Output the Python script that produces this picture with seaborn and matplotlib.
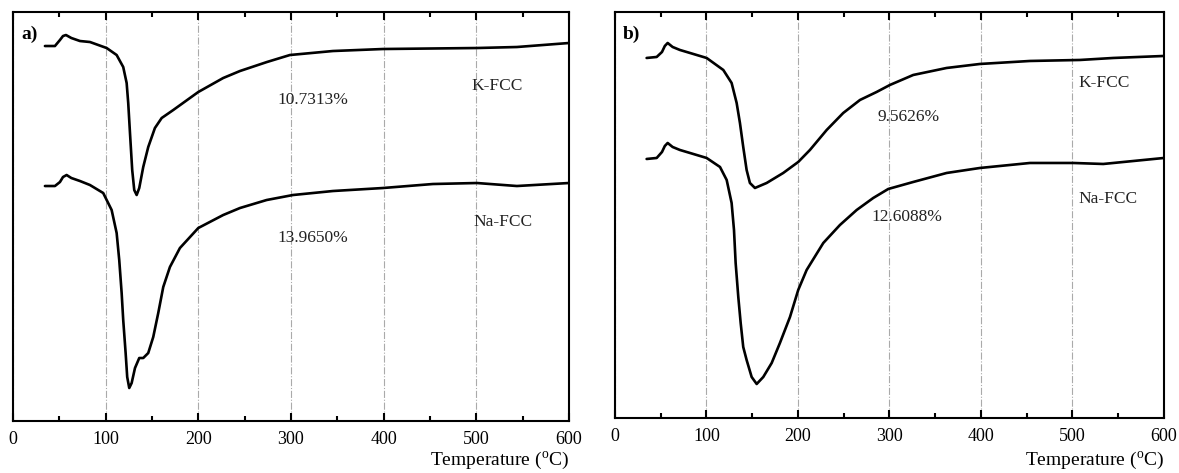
import numpy as np
import pandas as pd
import matplotlib
matplotlib.use("Agg")
import matplotlib.pyplot as plt
import seaborn as sns
from matplotlib.ticker import MultipleLocator

# DSC curves (temperature in degC, heat flow in arbitrary units)
temp_a_k = [34.5, 45.3, 50.7, 54.0, 57.2, 63.0, 72.3, 83.1, 101.1, 111.9, 119.0, 122.7,
            124.4, 126.3, 128.7, 130.9, 133.5, 136.3, 140.6, 146.0, 153.2, 160.5, 173.0,
            200.0, 226.9, 245.0, 274.1, 298.9, 345.3, 399.3, 500.7, 543.9, 600.0]
flow_a_k = [37.5, 37.5, 38.1, 38.5, 38.6, 38.3, 38.0, 37.9, 37.3, 36.6, 35.4, 33.8,
            31.8, 28.8, 25.1, 23.1, 22.6, 23.3, 25.4, 27.4, 29.3, 30.3, 31.1,
            32.9, 34.3, 35.0, 35.9, 36.6, 37.0, 37.2, 37.3, 37.4, 37.8]

temp_a_na = [34.5, 45.3, 50.7, 54.0, 57.9, 63.0, 72.3, 83.1, 97.4, 106.5, 111.9, 114.7,
             117.3, 119.0, 121.6, 123.3, 125.5, 128.1, 131.7, 136.3, 140.6, 146.0, 151.4,
             156.8, 162.2, 169.4, 180.2, 200.0, 226.9, 245.0, 273.8, 302.2, 345.3, 399.3,
             453.2, 500.7, 543.9, 600.0]
flow_a_na = [23.5, 23.5, 23.9, 24.4, 24.6, 24.3, 24.0, 23.6, 22.8, 21.1, 18.8, 16.1,
             12.8, 10.1, 6.8, 4.4, 3.3, 3.8, 5.3, 6.3, 6.3, 6.8, 8.4,
             10.8, 13.4, 15.4, 17.3, 19.3, 20.6, 21.3, 22.1, 22.6, 23.0, 23.3,
             23.7, 23.8, 23.5, 23.8]

temp_b_k = [34.6, 45.6, 51.4, 54.5, 57.6, 63.0, 71.0, 82.0, 100.2, 118.4, 127.5, 133.0,
            136.6, 140.2, 143.9, 147.5, 153.0, 165.8, 183.9, 200.3, 213.1, 231.4, 249.5,
            267.8, 286.0, 300.5, 326.0, 362.5, 398.9, 453.6, 508.2, 544.6, 600.0]
flow_b_k = [36.0, 36.1, 36.6, 37.2, 37.5, 37.1, 36.8, 36.5, 36.0, 34.8, 33.5, 31.5,
            29.5, 27.1, 24.8, 23.5, 23.0, 23.5, 24.5, 25.6, 26.8, 28.8, 30.5,
            31.8, 32.6, 33.3, 34.3, 35.0, 35.4, 35.7, 35.8, 36.0, 36.2]

temp_b_na = [34.6, 45.6, 51.4, 54.5, 57.6, 63.0, 71.0, 82.0, 100.2, 114.8, 122.1, 127.5,
             130.1, 131.9, 134.8, 137.4, 140.2, 143.9, 149.4, 154.9, 162.1, 171.3, 180.3,
             191.3, 200.3, 209.5, 227.7, 245.9, 264.2, 282.3, 298.7, 326.0, 362.5, 398.9,
             453.6, 501.0, 533.7, 600.0]
flow_b_na = [25.9, 26.0, 26.6, 27.2, 27.5, 27.1, 26.8, 26.5, 26.0, 25.1, 23.8, 21.5,
             18.8, 15.5, 12.1, 9.5, 7.1, 5.8, 4.1, 3.4, 4.1, 5.5, 7.5,
             10.1, 12.8, 14.8, 17.5, 19.3, 20.8, 22.0, 22.9, 23.6, 24.5, 25.0,
             25.5, 25.5, 25.4, 26.0]

# annotation text: (label, temperature, heat flow)
notes_a = [("10.7313%", 323.7, 32.1), ("K-FCC", 522.3, 33.5),
           ("13.9650%", 323.7, 18.3), ("Na-FCC", 529.3, 19.9)]
notes_b = [("9.5626%", 321.3, 30.1), ("K-FCC", 535.0, 33.5),
           ("12.6088%", 319.1, 20.1), ("Na-FCC", 538.8, 21.9)]

sns.set_theme(style="ticks")
plt.rcParams['font.family'] = ['Liberation Serif', 'DejaVu Serif']
plt.rcParams['mathtext.fontset'] = 'custom'
plt.rcParams['mathtext.rm'] = 'Liberation Serif'

fig = plt.figure(figsize=(11.79, 4.73), dpi=100)
ax_a = fig.add_axes([0.011, 0.1099, 0.4715, 0.8647])
ax_b = fig.add_axes([0.5216, 0.1163, 0.4656, 0.8584])


def make_frame(t_k, f_k, t_na, f_na):
    df_k = pd.DataFrame({'T': t_k, 'flow': f_k, 'sample': 'K-FCC'})
    df_na = pd.DataFrame({'T': t_na, 'flow': f_na, 'sample': 'Na-FCC'})
    return pd.concat([df_k, df_na], ignore_index=True)


def draw_panel(ax, df, notes, tag, ytop, label_y):
    sns.lineplot(data=df, x='T', y='flow', units='sample', estimator=None,
                 color='black', linewidth=1.9, sort=False, ax=ax, legend=False)
    for line in ax.lines:
        line.set_solid_joinstyle('round')
        line.set_solid_capstyle('round')
    ax.set_xlim(0, 600)
    ax.set_ylim(0, ytop)
    ax.xaxis.set_major_locator(MultipleLocator(100))
    ax.xaxis.set_minor_locator(MultipleLocator(50))
    ax.set_yticks([])
    ax.tick_params(axis='x', which='both', direction='in', top=True, bottom=True,
                   width=1.5, labelsize=13, pad=7, colors='black')
    ax.tick_params(axis='x', which='major', length=6)
    ax.tick_params(axis='x', which='minor', length=3.5)
    ax.grid(axis='x', which='major', color='#aaaaaa', linestyle='-.', linewidth=0.8)
    for s in ax.spines.values():
        s.set_linewidth(1.5)
        s.set_color('black')
    ax.set_xlabel('Temperature ($^{\\rm o}$C)', fontsize=14, color='black',
                  ha='right', va='center')
    ax.xaxis.set_label_coords(1.0, label_y)
    ax.set_ylabel('')
    for txt, x, y in notes:
        ax.text(x, y, txt, fontsize=12.5, ha='center', va='center', color='#222222')
    ax.text(0.015, 0.945, tag, transform=ax.transAxes, fontsize=14,
            fontweight='bold', ha='left', va='center', color='black')


draw_panel(ax_a, make_frame(temp_a_k, flow_a_k, temp_a_na, flow_a_na), notes_a, 'a)', 40.9, -0.098)
draw_panel(ax_b, make_frame(temp_b_k, flow_b_k, temp_b_na, flow_b_na), notes_b, 'b)', 40.6, -0.106)

fig.savefig('out.png', dpi=100, facecolor='white')
